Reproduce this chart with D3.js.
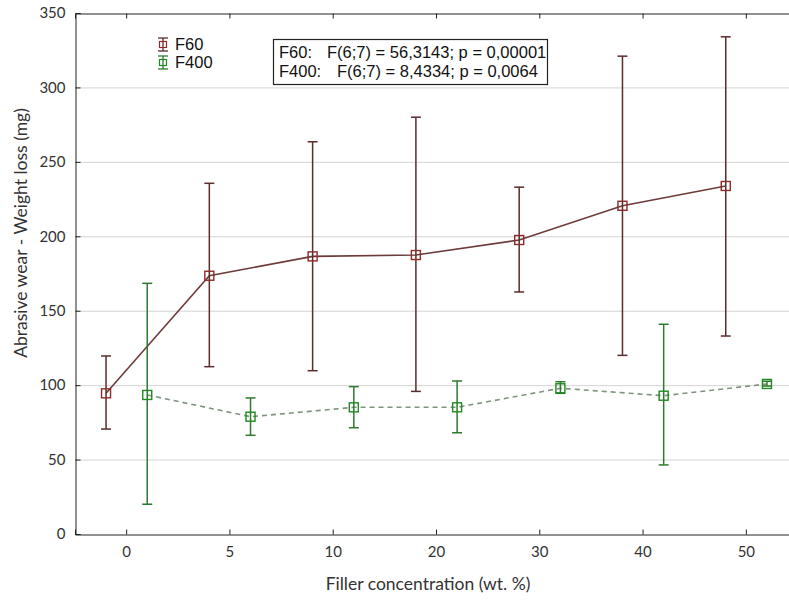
<!DOCTYPE html>
<html><head><meta charset="utf-8">
<script src="https://cdn.jsdelivr.net/npm/d3@7"></script>
<style>
html,body{margin:0;padding:0;background:#fff;}
svg{display:block;}
.ax{font-family:Lato,"Open Sans",sans-serif;font-size:15px;fill:#333;}
.axt{font-family:Lato,"Open Sans",sans-serif;font-size:17.5px;fill:#333;}
.lg{font-family:"Liberation Sans",Arial,sans-serif;font-size:16.5px;fill:#111;}
</style></head>
<body>
<svg id="c" width="789" height="600"></svg>
<script>
const categories = ["0","5","10","20","30","40","50"];
const f60Mean  = [94.5, 173.5, 186.5, 187.4, 197.5, 220.5, 233.8];
const f60Upper = [119.6, 235.6, 263.5, 280.0, 233.0, 321.0, 334.0];
const f60Lower = [70.5, 112.4, 109.7, 95.8, 162.6, 120.0, 133.0];
const f400Mean  = [93.4, 78.8, 85.1, 85.1, 97.9, 92.9, 100.8];
const f400Upper = [168.4, 91.4, 99.0, 102.8, 102.3, 140.9, 102.6];
const f400Lower = [20.0, 66.3, 71.4, 68.0, 94.5, 46.4, 99.4];
const yTicks = [0,50,100,150,200,250,300,350];
const seriesNames = ["F60","F400"];
const statsLines = [["F60:","F(6;7) = 56,3143; p = 0,00001"],["F400:","F(6;7) = 8,4334; p = 0,0064"]];

const svg = d3.select("#c");
const L = 75, R = 798, T = 13, B = 534;
const x = d3.scaleBand().domain(categories).range([L, R]).padding(0);
const y = d3.scaleLinear().domain([0, 350]).range([B, T]);
const off = 20.6;
const cx = c => x(c) + x.bandwidth()/2;

// gridlines
svg.append("g").selectAll("line").data(yTicks.filter(v => v > 0 && v < 350)).join("line")
  .attr("x1", L).attr("x2", R).attr("y1", d => y(d)+0.5).attr("y2", d => y(d)+0.5)
  .attr("stroke", "#d4d4d4").attr("stroke-width", 1);

// axes
const yAxis = d3.axisLeft(y).tickValues(yTicks).tickSize(-5).tickPadding(10);
const gy = svg.append("g").attr("transform", `translate(${L+0.5},0)`).call(yAxis);
gy.selectAll("text").attr("class","ax").attr("fill","#333");
const xAxis = d3.axisBottom(x).tickSize(-5).tickPadding(12);
const gx = svg.append("g").attr("transform", `translate(0,${B+0.5})`).call(xAxis);
gx.selectAll("text").attr("class","ax").attr("fill","#333");
const xTop = d3.axisTop(x).tickSize(-5).tickFormat("");
const gt = svg.append("g").attr("transform", `translate(0,${T+0.5})`).call(xTop);
[gy,gx,gt].forEach(g => { g.select(".domain").attr("stroke","#222"); g.selectAll(".tick line").attr("stroke","#222"); });

// axis titles
svg.append("text").attr("class","axt").attr("text-anchor","middle")
  .attr("x", 428).attr("y", 590).text("Filler concentration (wt. %)");
svg.append("text").attr("class","axt").attr("text-anchor","middle")
  .attr("transform", "translate(27,233) rotate(-90)").text("Abrasive wear - Weight loss (mg)");

function drawSeries(mean, up, lo, dx, lineColor, dash, barColor, markColor) {
  const g = svg.append("g");
  const pts = categories.map((c,i) => ({x: cx(c)+dx, m: mean[i], u: up[i], l: lo[i]}));
  g.append("path").datum(pts)
    .attr("d", d3.line().x(d => d.x).y(d => y(d.m)))
    .attr("fill","none").attr("stroke", lineColor).attr("stroke-width", 1.6)
    .attr("stroke-dasharray", dash);
  g.selectAll(".eb").data(pts).join("line")
    .attr("x1", d => d.x).attr("x2", d => d.x).attr("y1", d => y(d.u)).attr("y2", d => y(d.l))
    .attr("stroke", barColor).attr("stroke-width", 1.5);
  ["u","l"].forEach(k => {
    g.selectAll(".cap"+k).data(pts).join("line")
      .attr("x1", d => d.x-5).attr("x2", d => d.x+5).attr("y1", d => y(d[k])).attr("y2", d => y(d[k]))
      .attr("stroke", barColor).attr("stroke-width", 1.5);
  });
  g.selectAll("rect").data(pts).join("rect")
    .attr("x", d => d.x-4.5).attr("y", d => y(d.m)-4.5).attr("width", 9).attr("height", 9)
    .attr("fill","none").attr("stroke", markColor).attr("stroke-width", 1.4);
}
drawSeries(f60Mean, f60Upper, f60Lower, -off, "#6e3b3b", null, "#5a2c2c", "#8e2a2a");
drawSeries(f400Mean, f400Upper, f400Lower, off, "#7f937f", "5,4", "#2e7a2e", "#1f8a1f");

// legend
const legColors = [["#5a2c2c","#8e2a2a"],["#2e7a2e","#1f8a1f"]];
seriesNames.forEach((n,i) => {
  const yy = 44 + i*18, xx = 163;
  const g = svg.append("g");
  g.append("line").attr("x1",xx).attr("x2",xx).attr("y1",yy-6).attr("y2",yy+7).attr("stroke",legColors[i][0]).attr("stroke-width",1.3);
  g.append("line").attr("x1",xx-5).attr("x2",xx+5).attr("y1",yy-6).attr("y2",yy-6).attr("stroke",legColors[i][0]).attr("stroke-width",1.3);
  g.append("line").attr("x1",xx-5).attr("x2",xx+5).attr("y1",yy+7).attr("y2",yy+7).attr("stroke",legColors[i][0]).attr("stroke-width",1.3);
  g.append("rect").attr("x",xx-3.5).attr("y",yy-2.5).attr("width",7).attr("height",6).attr("fill","none").attr("stroke",legColors[i][1]).attr("stroke-width",1.2);
  g.append("text").attr("class","lg").attr("x",xx+12).attr("y",yy+6).text(n);
});

// stats box
svg.append("rect").attr("x",273.5).attr("y",39.5).attr("width",274).attr("height",45)
  .attr("fill","#fff").attr("stroke","#222").attr("stroke-width",1.2);
statsLines.forEach((s,i) => {
  const yy = 57.5 + i*19;
  svg.append("text").attr("class","lg").attr("x",279).attr("y",yy).text(s[0]);
  svg.append("text").attr("class","lg").attr("x", i===0 ? 327 : 337).attr("y",yy).text(s[1]);
});
</script>
</body></html>
